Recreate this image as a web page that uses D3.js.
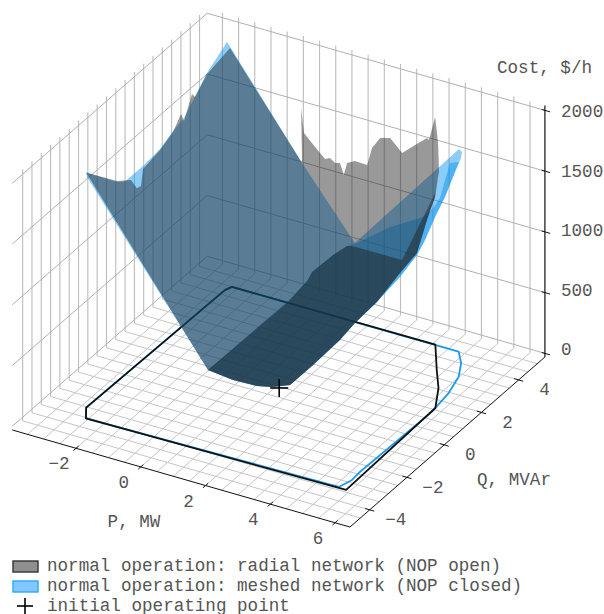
<!DOCTYPE html>
<html><head><meta charset="utf-8">
<script src="https://cdn.jsdelivr.net/npm/d3@7/dist/d3.min.js"></script>
<style>html,body{margin:0;padding:0;background:#fff}svg{display:block}text{font-family:"Liberation Mono",monospace;font-size:17.6px;fill:#555}</style>
</head><body><svg id="c" width="604" height="614"></svg>
<script>
// Axis limits
const pLim=[-3.97,6.46], qLim=[-5.06,5.41], cLim=[-30,2040];
const pTicks=[-2,0,2,4,6], qTicks=[-4,-2,0,2,4], cTicks=[0,500,1000,1500,2000];
const pGrid=d3.range(-3.5,6.01,0.5), qGrid=d3.range(-4.5,5.01,0.5);
// Operating region boundaries on the floor [P,Q]
const radialBoundary=[[-2.75,-3.21],[-2.47,-3.71],[5.48,-3.56],[5.37,1.42],[4.91,2.39],[4.39,3.20],[3.68,4.36],[-2.58,4.32],[-2.66,4.08]];
const meshedBoundary=[[-2.75,-3.21],[-2.47,-3.71],[5.23,-3.52],[5.35,-3.02],[5.32,-2.61],[5.39,1.21],[5.28,2.29],[5.08,3.18],[4.77,3.85],[4.41,4.34],[-2.58,4.32],[-2.66,4.08]];
const initialPoint=[1.21,0.27,0];
// Cost surface outlines [P,Q,C]
const radialLowP=[[-2.65,-3.39,1967],[-2.65,-1.73,1675],[-2.65,-0.98,1583],[-2.65,-0.66,1473],[-2.65,-0.44,1461],[-2.65,-0.33,1587],[-2.65,0.58,1621],[-2.65,1.28,1676],[-2.65,1.71,1767],[-2.65,1.87,1688],[-2.65,2.30,1852],[-2.65,2.46,1806],[-2.65,3.10,1909],[-2.65,4.34,1958],[-0.43,4.35,1181]];
const radialHighQ=[[-0.46,4.35,1631],[-0.37,4.35,1432],[-0.03,4.35,1343],[0.28,4.35,1268],[0.43,4.35,1288],[0.59,4.35,1259],[0.74,4.35,1271],[0.86,4.35,1181],[0.96,4.35,1287],[1.20,4.35,1323],[1.58,4.35,1318],[1.73,4.35,1470],[1.98,4.35,1571],[2.29,4.35,1595],[2.66,4.35,1500],[3.06,4.35,1597],[3.43,4.35,1682],[3.49,4.35,1671],[3.68,4.35,1874],[3.77,4.35,1667],[3.80,4.35,1431]];
const highPEdge=[[5.4,1.51,1892],[5.4,1.35,1749],[5.4,0.97,1634],[5.4,0.38,1417],[5.4,-0.53,1374]];
const lowerEdge=[[5.4,-1.77,1301],[5.4,-2.95,1286],[5.31,-3.6,1227],[4.48,-3.6,957],[3.77,-3.6,738],[3.21,-3.6,679],[2.75,-3.6,652],[2.01,-3.6,644],[1.235,-3.6,667]];
const valley=[[1.2,0.76,642],[1.2,1.83,680],[1.2,2.05,716],[1.2,3.18,705],[1.2,3.93,679],[1.2,4.2,642]];
const radialFold=[[2.66,4.35,619],[3.68,4.35,1248]];
const meshedLowP=[[-2.65,-3.39,1967],[-2.65,-1.73,1667],[-2.65,-1.30,1613],[-2.65,-0.33,1611],[-2.65,0.58,1630],[-2.65,1.28,1684],[-2.65,1.87,1713],[-2.65,3.10,1918],[-2.65,4.18,2029],[-2.65,4.39,1951],[-0.43,4.35,1181],[1.20,4.35,648]];
const meshedCorner=[[4.39,4.4,1658],[4.48,4.4,1640],[4.45,4.4,1588]];
const meshedFold=[[0.93,4.4,595],[1.24,4.4,643],[2.26,4.4,853],[3.28,4.4,1013],[3.59,4.4,1111],[3.80,4.4,1210],[4.11,4.4,1522],[4.39,4.4,1551]];
const meshedHighP=[[5,3.23,1714],[5,2.58,1553],[5,2.05,1460],[5,1.51,1342],[5,1.08,1277],[5,0.17,1220]];
const meshedStart=[[-2.65,-3.34,1923]];
// Legend
const legendLabels=["normal operation: radial network (NOP open)","normal operation: meshed network (NOP closed)","initial operating point"];
const greyFill="#1d1d1d", blueFill="#0091f0";

const svg=d3.select("#c");
// Affine projection made of three linear scales
const px=d3.scaleLinear().domain([0,1]).range([0,32.38]), py=d3.scaleLinear().domain([0,1]).range([0,9.31]);
const qx=d3.scaleLinear().domain([0,1]).range([0,18.62]), qy=d3.scaleLinear().domain([0,1]).range([0,-16.24]);
const cy=d3.scaleLinear().domain([0,2000]).range([0,-243]);
const X=(p,q)=>235+px(p)+qx(q);
const Y=(p,q,c)=>381.1+py(p)+qy(q)+cy(c);
const line=d3.line().x(d=>X(d[0],d[1])).y(d=>Y(d[0],d[1],d[2]||0));
const seg=(g,a,b,col,w)=>g.append("path").attr("d",line([a,b])).attr("fill","none").attr("stroke",col).attr("stroke-width",w);

const grid=svg.append("g");
const [p0,p1]=pLim,[q0,q1]=qLim,[c0,c1]=cLim;
const wall="#bcbcbc", floor="#c6c6c6", level="#b0b0b0";
pGrid.forEach(p=>{seg(grid,[p,q0,c0],[p,q1,c0],floor,1);seg(grid,[p,q1,c0],[p,q1,c1],wall,1.1);});
qGrid.forEach(q=>{seg(grid,[p0,q,c0],[p1,q,c0],floor,1);seg(grid,[p0,q,c0],[p0,q,c1],wall,1.1);});
cTicks.forEach(c=>{seg(grid,[p0,q0,c],[p0,q1,c],level,1);seg(grid,[p0,q1,c],[p1,q1,c],level,1);});

// Axes
const ax=svg.append("g");
seg(ax,[p0,q0,c0],[p1,q0,c0],"#111",1);
seg(ax,[p1,q0,c0],[p1,q1,c0],"#111",1);
seg(ax,[p1,q1,c0],[p1,q1,c1],"#111",1.2);
pTicks.forEach(p=>{seg(ax,[p,q0-.14,c0],[p,q0+.14,c0],"#111",1);
 ax.append("text").attr("x",X(p,q0)-17).attr("y",Y(p,q0,c0)+16).attr("text-anchor","middle").attr("dominant-baseline","central").text(String(p).replace("-","\u2212"));});
qTicks.forEach(q=>{seg(ax,[p1-.14,q,c0],[p1+.14,q,c0],"#111",1);
 ax.append("text").attr("x",X(p1,q)+26).attr("y",Y(p1,q,c0)+10.5).attr("text-anchor","middle").attr("dominant-baseline","central").text(String(q).replace("-","\u2212"));});
cTicks.forEach(c=>{seg(ax,[p1-.1,q1,c],[p1+.16,q1,c],"#111",1);
 ax.append("text").attr("x",561).attr("y",Y(p1,q1,c)-3+c*.0025).attr("dominant-baseline","central").text(c);});
[["P, MW",134,522],["Q, MVAr",514,480],["Cost, $/h",544.5,68]].forEach(t=>ax.append("text").attr("x",t[1]).attr("y",t[2]).attr("text-anchor","middle").attr("dominant-baseline","central").text(t[0]));

// Floor boundaries
const closed=a=>line(a)+"Z";
svg.append("path").attr("d",closed(meshedBoundary)).attr("fill","none").attr("stroke","#1b9cf0").attr("stroke-width",1.8).attr("stroke-linejoin","round");
svg.append("path").attr("d",closed(radialBoundary)).attr("fill","none").attr("stroke","#111").attr("stroke-width",1.8).attr("stroke-linejoin","round");

// Surfaces
const fill=(pts,col,o)=>svg.append("path").attr("d",closed(pts)).attr("fill",col).attr("fill-opacity",o);
fill([...meshedLowP,...meshedCorner,...meshedHighP,...lowerEdge,...meshedStart],blueFill,.45);
fill([...meshedFold,...meshedHighP,...lowerEdge,...valley],blueFill,.45);
fill([...radialLowP,...radialHighQ,...highPEdge,...lowerEdge],greyFill,.45);
fill([...valley,...radialFold,...highPEdge,...lowerEdge],greyFill,.45);

// Initial operating point
const plus=(x,y,s)=>{svg.append("line").attr("x1",x-s).attr("x2",x+s).attr("y1",y).attr("y2",y).attr("stroke","#000").attr("stroke-width",1.6);
 svg.append("line").attr("x1",x).attr("x2",x).attr("y1",y-s).attr("y2",y+s).attr("stroke","#000").attr("stroke-width",1.6);};
plus(X(initialPoint[0],initialPoint[1]),Y(...initialPoint),9);

// Legend
const lg=svg.append("g");
lg.append("rect").attr("x",13).attr("y",561).attr("width",25).attr("height",11).attr("fill","#8f8f8f").attr("stroke","#333").attr("stroke-width",1.4);
lg.append("rect").attr("x",13).attr("y",581).attr("width",25).attr("height",11).attr("fill","#80c8ff").attr("stroke","#2aa8f8").attr("stroke-width",1.4);
plus(25,606,8);
legendLabels.forEach((t,i)=>lg.append("text").attr("x",47).attr("y",[566,586,605.5][i]).attr("dominant-baseline","central").text(t));
</script></body></html>
